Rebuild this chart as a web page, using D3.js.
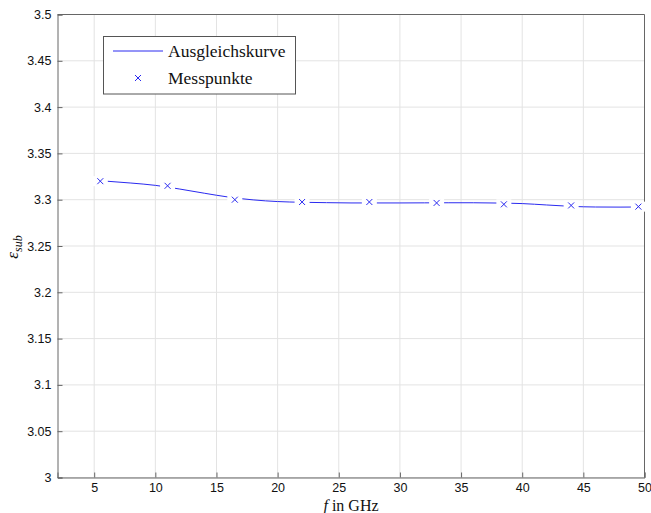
<!DOCTYPE html>
<html><head><meta charset="utf-8">
<script src="https://cdn.jsdelivr.net/npm/d3@7"></script>
<style>body{margin:0;background:#fff}svg{display:block}</style>
</head><body>
<svg id="c" width="651" height="513"></svg>
<script>
const measFreq = [5.5, 11, 16.5, 22, 27.5, 33, 38.5, 44, 49.5];
const measEps  = [3.320, 3.315, 3.300, 3.2975, 3.2975, 3.2965, 3.295, 3.2938, 3.2925];
const fitFreq = [5.5, 8, 10, 12, 14, 16, 18, 20, 22, 24, 26, 28, 30, 32, 34, 36, 38, 40, 42, 44, 46, 48, 49.5];
const fitEps  = [3.3205, 3.318, 3.3155, 3.3115, 3.307, 3.3028, 3.2998, 3.2980, 3.2972, 3.2968, 3.2965, 3.2965, 3.2965, 3.2966, 3.2967, 3.2967, 3.2964, 3.2958, 3.2943, 3.2928, 3.2921, 3.2920, 3.2921];
const xTicks = [5, 10, 15, 20, 25, 30, 35, 40, 45, 50];
const yTicks = [3, 3.05, 3.1, 3.15, 3.2, 3.25, 3.3, 3.35, 3.4, 3.45, 3.5];
const legendLabels = ["Ausgleichskurve", "Messpunkte"];

const svg = d3.select("#c");
const L = 57.5, R = 644.5, T = 14.5, B = 477.5;
const x = d3.scaleLinear().domain([2, 50]).range([L, R]);
const y = d3.scaleLinear().domain([3, 3.5]).range([B, T]);
const blue = "#2a2af0";

// grid
const g = svg.append("g");
g.selectAll(".gx").data(xTicks).join("line")
  .attr("x1", d => x(d)).attr("x2", d => x(d)).attr("y1", T).attr("y2", B)
  .attr("stroke", "#e3e3e3").attr("stroke-width", 1);
g.selectAll(".gy").data(yTicks).join("line")
  .attr("y1", d => y(d)).attr("y2", d => y(d)).attr("x1", L).attr("x2", R)
  .attr("stroke", "#e3e3e3").attr("stroke-width", 1);

// axes (ticks inward)
const xAxis = d3.axisBottom(x).tickValues(xTicks).tickSize(-5).tickPadding(6).tickFormat(d3.format("~g"));
const yAxis = d3.axisLeft(y).tickValues(yTicks).tickSize(-5).tickPadding(6).tickFormat(d3.format("~g"));
const ax = svg.append("g").attr("transform", `translate(0,${B})`).call(xAxis);
const ay = svg.append("g").attr("transform", `translate(${L},0)`).call(yAxis);
[ax, ay].forEach(a => {
  a.select(".domain").attr("stroke", "#666");
  a.selectAll(".tick line").attr("stroke", "#666");
  a.selectAll("text").attr("font-family", "Liberation Sans, Arial, sans-serif").attr("font-size", 12.5).attr("fill", "#111");
});
// box top/right
svg.append("line").attr("x1", L).attr("x2", R).attr("y1", T).attr("y2", T).attr("stroke", "#666");
svg.append("line").attr("x1", R).attr("x2", R).attr("y1", T).attr("y2", B).attr("stroke", "#666");

// curve
const line = d3.line().x((d, i) => x(fitFreq[i])).y(d => y(d)).curve(d3.curveMonotoneX);
svg.append("path").datum(fitEps).attr("d", line).attr("fill", "none").attr("stroke", blue).attr("stroke-width", 1);

// markers with white halo
const pts = measFreq.map((f, i) => [f, measEps[i]]);
svg.selectAll(".halo").data(pts).join("rect")
  .attr("x", d => x(d[0]) - 7.5).attr("y", d => y(d[1]) - 5).attr("width", 15).attr("height", 10).attr("fill", "#fff");
function cross(sel, s) {
  sel.append("path").attr("d", `M${-s},${-s}L${s},${s}M${-s},${s}L${s},${-s}`).attr("stroke", blue).attr("stroke-width", 1).attr("fill", "none");
}
svg.selectAll(".mk").data(pts).join("g")
  .attr("transform", d => `translate(${x(d[0])},${y(d[1])})`)
  .each(function() { cross(d3.select(this), 3); });

// legend
const lg = svg.append("g");
lg.append("rect").attr("x", 103.5).attr("y", 36.5).attr("width", 192).attr("height", 57.5)
  .attr("fill", "#fff").attr("stroke", "#555").attr("stroke-width", 1);
lg.append("line").attr("x1", 113).attr("x2", 163).attr("y1", 51).attr("y2", 51).attr("stroke", blue).attr("stroke-width", 1);
cross(lg.append("g").attr("transform", "translate(138,78)"), 3);
lg.selectAll("text").data(legendLabels).join("text")
  .attr("x", 168).attr("y", (d, i) => 56.5 + i * 27)
  .attr("font-family", "Liberation Serif, DejaVu Serif, serif").attr("font-size", 17.5).attr("fill", "#111")
  .text(d => d);

// axis labels
const xl = svg.append("text").attr("x", 351).attr("y", 511).attr("text-anchor", "middle")
  .attr("font-family", "Liberation Serif, DejaVu Serif, serif").attr("font-size", 16).attr("fill", "#111");
xl.append("tspan").attr("font-style", "italic").text("f");
xl.append("tspan").text(" in GHz");

const yl = svg.append("text").attr("transform", "translate(18,247) rotate(-90)").attr("text-anchor", "middle")
  .attr("font-family", "Liberation Serif, DejaVu Serif, serif").attr("font-size", 17).attr("fill", "#111");
yl.append("tspan").attr("font-style", "italic").text("ε");
yl.append("tspan").attr("font-style", "italic").attr("font-size", 12).attr("dy", 4).text("sub");
</script>
</body></html>
